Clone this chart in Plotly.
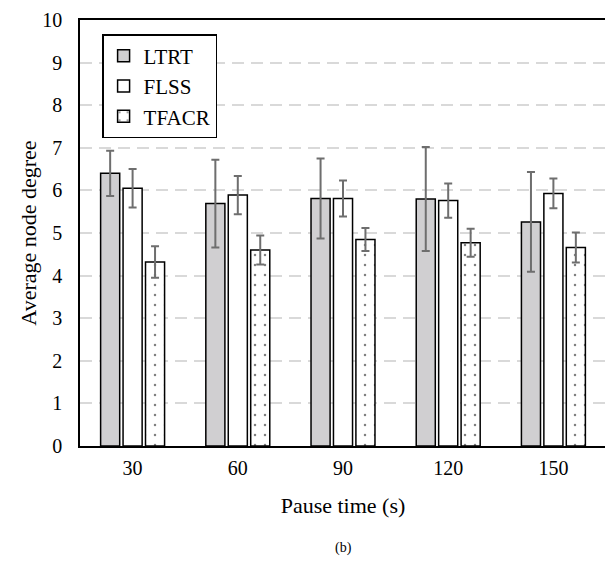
import plotly.graph_objects as go

categories = ["30", "60", "90", "120", "150"]
ltrt = [6.40, 5.69, 5.81, 5.80, 5.26]
ltrt_err = [0.53, 1.03, 0.94, 1.22, 1.17]
flss = [6.05, 5.89, 5.81, 5.76, 5.93]
flss_err = [0.45, 0.45, 0.42, 0.40, 0.35]
tfacr = [4.32, 4.60, 4.85, 4.77, 4.66]
tfacr_err = [0.37, 0.34, 0.27, 0.33, 0.35]
y_ticks = list(range(0, 11))

font_family = "Liberation Serif, Times New Roman, serif"
err_style = dict(type="data", color="#6e6e6e", thickness=2, width=4)

fig = go.Figure()
fig.add_trace(go.Bar(
    name="LTRT", x=categories, y=ltrt,
    error_y=dict(array=ltrt_err, **err_style),
    marker=dict(color="#d0cfd1", line=dict(color="black", width=1.5)),
))
fig.add_trace(go.Bar(
    name="FLSS", x=categories, y=flss,
    error_y=dict(array=flss_err, **err_style),
    marker=dict(color="white", line=dict(color="black", width=1.5)),
))
fig.add_trace(go.Bar(
    name="TFACR", x=categories, y=tfacr,
    error_y=dict(array=tfacr_err, **err_style),
    marker=dict(color="white", line=dict(color="black", width=1.5),
                pattern=dict(shape=".", size=10, solidity=0.05,
                             fgcolor="black", bgcolor="white")),
))

fig.update_layout(
    width=605, height=555,
    margin=dict(l=72, r=7, t=12, b=117, autoexpand=False),
    paper_bgcolor="white", plot_bgcolor="white",
    barmode="group", bargap=0.36, bargroupgap=0.15,
    font=dict(family=font_family, size=20, color="black"),
    showlegend=True,
    legend=dict(
        x=0.042, y=0.967, xanchor="left", yanchor="top",
        bordercolor="black", borderwidth=1.5, bgcolor="white",
        font=dict(size=21, family=font_family),
        itemwidth=30,
    ),
    xaxis=dict(
        title=dict(text="Pause time (s)", font=dict(size=22), standoff=20),
        showline=True, linecolor="black", linewidth=2, mirror=True,
        ticks="", showgrid=False, automargin=False, ticklabelstandoff=3,
    ),
    yaxis=dict(
        title=dict(text="Average node degree", font=dict(size=22), standoff=0),
        range=[0, 10], tickvals=y_ticks, ticklabelstandoff=12,
        showline=True, linecolor="black", linewidth=1.5, mirror=True,
        showgrid=True, gridcolor="#d9d9d9", gridwidth=2, griddash="12px,7px",
        ticks="", zeroline=False, automargin=False,
    ),
    annotations=[dict(
        text="(b)", x=0.5, y=-0.24, xref="paper", yref="paper",
        xanchor="center", yanchor="middle", showarrow=False,
        font=dict(size=14, family=font_family),
    )],
)

fig.write_html("out.html")
